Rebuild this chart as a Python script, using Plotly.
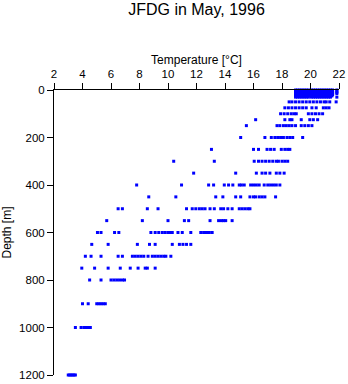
import plotly.graph_objects as go

# Depth levels [m] and the temperatures [°C] observed at each level
depth_levels = [0, 5, 10, 15, 20, 25, 30, 50, 75, 100, 125, 150, 200, 250, 300,
                350, 400, 450, 500, 550, 600, 650, 700, 750, 800, 900, 1000, 1200]

temps_at_level = [
    [18.95, 19.1, 19.25, 19.4, 19.55, 19.7, 19.85, 20.05, 20.2, 20.35, 20.5, 20.65, 20.8, 20.95, 21.1, 21.25, 21.4, 21.55, 21.85],
    [18.95, 19.1, 19.25, 19.4, 19.55, 19.7, 19.85, 20.05, 20.2, 20.35, 20.5, 20.65, 20.8, 20.95, 21.1, 21.25, 21.4, 21.55, 21.85],
    [18.95, 19.1, 19.25, 19.4, 19.55, 19.7, 19.85, 20.05, 20.2, 20.35, 20.5, 20.65, 20.8, 20.95, 21.1, 21.25, 21.4, 21.55, 21.85],
    [18.95, 19.1, 19.25, 19.4, 19.55, 19.7, 19.85, 20.05, 20.2, 20.35, 20.5, 20.65, 20.8, 20.95, 21.1, 21.25, 21.4, 21.55, 21.85],
    [18.95, 19.1, 19.25, 19.4, 19.55, 19.7, 19.85, 20.05, 20.2, 20.35, 20.5, 20.65, 20.8, 20.95, 21.1, 21.25, 21.4, 21.55],
    [18.95, 19.1, 19.25, 19.4, 19.55, 19.7, 19.85, 20.05, 20.2, 20.35, 20.5, 20.65, 20.8, 20.95, 21.1, 21.25, 21.4, 21.5],
    [18.95, 19.1, 19.25, 19.4, 19.55, 19.7, 19.85, 20.05, 20.2, 20.35, 20.5, 20.65, 20.8, 20.95, 21.1, 21.25, 21.4, 21.85],
    [18.5, 18.7, 18.95, 19.2, 19.45, 19.7, 19.95, 20.2, 20.45, 20.7, 20.95, 21.1, 21.35, 21.8],
    [18.2, 18.45, 18.7, 18.95, 19.2, 19.45, 19.7, 20.1, 20.4, 20.9, 21.1, 21.3],
    [17.9, 18.15, 18.4, 18.65, 18.85, 19.0, 19.85, 20.1, 20.35, 20.6, 20.85],
    [16.15, 18.2, 18.55, 18.7, 19.35, 19.95, 20.2, 20.5],
    [15.5, 17.65, 17.85, 18.1, 18.3, 18.5, 18.7, 18.95, 19.35, 19.6, 19.85, 20.1],
    [15.1, 16.8, 17.25, 17.5, 17.7, 17.9, 18.1, 18.35, 18.55, 18.75, 19.45],
    [13.05, 16.0, 16.35, 16.95, 17.2, 17.45, 17.95, 18.2, 18.4, 18.55],
    [10.4, 13.25, 16.05, 16.35, 16.6, 16.85, 17.1, 17.35, 17.6, 17.75, 18.0, 18.2, 18.4],
    [11.8, 14.75, 16.2, 16.6, 16.85, 17.15, 17.6, 17.85, 18.15],
    [7.8, 10.95, 12.85, 13.2, 13.95, 14.25, 14.55, 15.0, 15.15, 15.35, 15.8, 16.0, 16.2, 16.4,
     16.75, 17.0, 17.2, 17.4, 17.6, 17.85],
    [8.65, 10.55, 13.35, 13.85, 14.75, 15.1, 15.75, 16.0, 16.15, 16.4, 16.6, 16.8, 17.55],
    [6.5, 6.8, 8.55, 9.3, 11.3, 11.7, 11.95, 12.2, 12.4, 12.6, 12.95, 13.25, 13.7, 13.9, 14.2,
     14.5, 15.0, 15.2, 15.4, 15.6, 15.75],
    [5.7, 8.2, 10.0, 11.15, 11.45, 12.95, 13.55, 13.75, 13.9, 14.05, 14.5],
    [5.05, 5.3, 6.25, 6.55, 8.8, 9.1, 9.35, 9.6, 9.8, 10.0, 10.15, 10.3, 10.7, 11.0, 11.6,
     12.3, 12.5, 12.7, 12.9, 13.1],
    [4.65, 5.8, 7.85, 8.7, 9.1, 10.3, 10.8, 11.05, 11.3, 11.6],
    [4.2, 4.6, 5.3, 6.5, 6.8, 7.5, 7.7, 7.9, 8.1, 8.3, 8.6, 8.9, 9.1, 9.3, 9.5, 9.7, 9.85, 10.2],
    [3.95, 4.85, 5.8, 6.65, 7.35, 7.9, 8.4, 8.55, 9.1],
    [4.5, 5.3, 6.0, 6.2, 6.4, 6.6, 6.8, 6.95],
    [4.0, 4.4, 5.0, 5.15, 5.3, 5.45, 5.6],
    [3.5, 3.9, 4.1, 4.25, 4.4, 4.55],
    [3.0, 3.1, 3.2, 3.3, 3.4, 3.5],
]

x_ticks = [2, 4, 6, 8, 10, 12, 14, 16, 18, 20, 22]
y_ticks = [0, 200, 400, 600, 800, 1000, 1200]

temperature = []
depth = []
for d, temps in zip(depth_levels, temps_at_level):
    for t in temps:
        temperature.append(t)
        depth.append(d)

fig = go.Figure(go.Scatter(
    x=temperature, y=depth, mode="markers",
    marker=dict(symbol="square", size=3, color="#0000ff", line=dict(width=0)),
    cliponaxis=False,
))

axis_common = dict(
    showline=True, linecolor="black", linewidth=1,
    ticks="outside", ticklen=6, tickcolor="black", tickwidth=1,
    showgrid=False, zeroline=False, mirror=False, automargin=False,
    tickfont=dict(size=11.5, color="black"),
)

fig.update_layout(
    width=348, height=384,
    margin=dict(l=54, r=9, t=90, b=9, autoexpand=False),
    plot_bgcolor="white", paper_bgcolor="white",
    showlegend=False,
    font=dict(family="Liberation Sans, Arial, sans-serif", size=11, color="black"),
    title=dict(text="JFDG in May, 1996", x=0.5, xref="paper", xanchor="center",
               y=1 - 9 / 384, yref="container", yanchor="middle",
               font=dict(size=16, color="black")),
    xaxis=dict(side="top", range=[2, 22], tickvals=x_ticks,
               title=dict(text="Temperature [°C]", font=dict(size=12), standoff=1),
               **axis_common),
    yaxis=dict(range=[1200, 0], tickvals=y_ticks,
               title=dict(text="Depth [m]", font=dict(size=12), standoff=6),
               **axis_common),
)

fig.write_html("out.html")
